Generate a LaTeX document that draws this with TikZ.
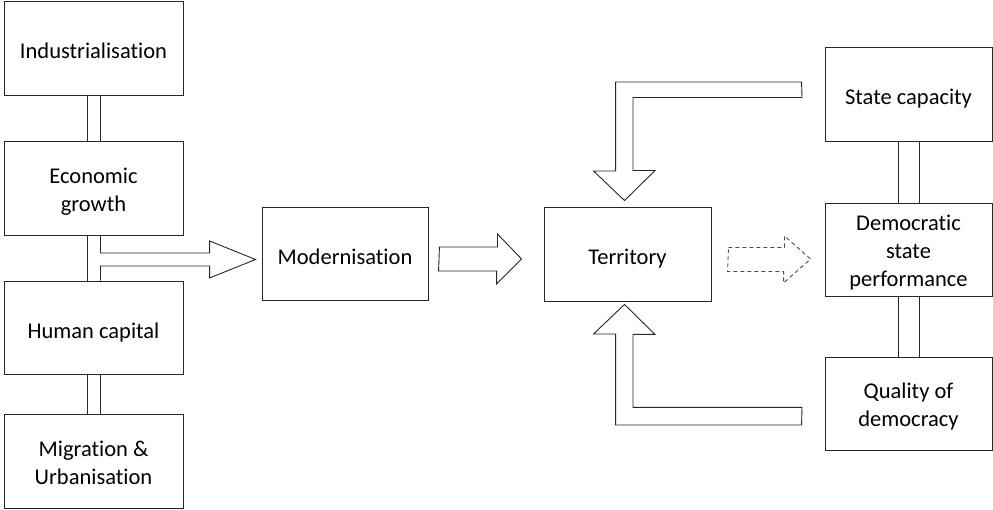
\documentclass[tikz,border=0pt]{standalone}
\usepackage{fontspec}
\setmainfont{Carlito}[Ligatures=NoCommon]
\usepackage{tikz}
\usetikzlibrary{calc}
\newcommand{\upstrut}{\rule{0pt}{25pt}} % Pushes the first line of a box down
\tikzset{x=1pt, y=1pt, % One unit is one point
    box/.style=
    { % Sets the properties for each box
        draw=black!85,
        line width=0.9pt,
        align=center,
        inner sep=2pt,
        font=\fontsize{22.5}{28}\selectfont,
        execute at begin node={\rule{0pt}{28pt}}, % Same strut in every box
        execute at end node={\rule[-6pt]{0pt}{6pt}}
    },
    leftbox/.style={box, minimum width=179, minimum height=94},
    rightbox/.style={box, minimum width=167, minimum height=93},
    bar/.style={draw=black!85, line width=0.9pt}, % Double lines between boxes
    blockarrow/.style={draw=black!85, line width=0.9pt, line join=miter}
}
\begin{document}
\begin{tikzpicture}
\useasboundingbox (0,0) rectangle (993,510);
\node [leftbox] (ind)  at (93.5,462)   {Industrialisation};
\node [leftbox] (econ) at (93.5,322)   {\upstrut Economic\\growth};
\node [leftbox,minimum height=93] (hum) at (93.5,182.5) {Human capital};
\node [leftbox] (mig)  at (93.5,49)    {\upstrut Migration \&\\Urbanisation};
%%%%%%%%%%%%%%%%%%%%%%%%%%%%%%%%%%
\node [box,minimum width=166,minimum height=93] (mod)  at (345,256.5) {Modernisation};
\node [box,minimum width=167,minimum height=94] (terr) at (627.5,256) {Territory};
%%%%%%%%%%%%%%%%%%%%%%%%%%%%%%%%%%
\node [rightbox,minimum height=94] (state) at (908.5,416) {State capacity};
\node [rightbox] (dem)  at (908.5,260.5) {\upstrut Democratic\\state\\performance};
\node [rightbox] (qual) at (908.5,106.5) {\upstrut Quality of\\democracy};

% double bars, left column
\draw [bar]
    ([xshift=-6pt]ind.south) -- ([xshift=-6pt]econ.north)
    ([xshift=7pt]ind.south) -- ([xshift=7pt]econ.north)
    ([xshift=-6pt]econ.south) -- ([xshift=-6pt]hum.north)
    ([xshift=-6pt]hum.south) -- ([xshift=-6pt]mig.north)
    ([xshift=7pt]hum.south) -- ([xshift=7pt]mig.north);

% double bars, right column
\draw [bar]
    ([xshift=-10.5pt]state.south) -- ([xshift=-10.5pt]dem.north)
    ([xshift=10.5pt]state.south) -- ([xshift=10.5pt]dem.north)
    ([xshift=-10.5pt]dem.south) -- ([xshift=-10.5pt]qual.north)
    ([xshift=10.5pt]dem.south) -- ([xshift=10.5pt]qual.north);

% growth/capital -> modernisation
\coordinate (tipmod) at ($(mod.west)+(-6,-6)$);
\draw [blockarrow]
    ([xshift=7pt]econ.south) |- ($(tipmod)+(-46,6.5)$) -- ++(0,12) -- (tipmod)
    -- ++(-46,-18.5) -- ++(0,12) -| ([xshift=7pt]hum.north);

% modernisation -> territory
\draw [blockarrow]
    ($(mod.east)+(11,6.5)$) -- ++(58,0) -- ++(0,13) -- ($(terr.west)+(-22,-5)$)
    -- ++(-25,-25) -- ++(0,13) -- ++(-58,0) -- cycle;

% territory -> democratic state performance
\draw [blockarrow,draw=black!70,dash pattern=on 4pt off 3pt]
    ($(terr.east)+(17,6.5)$) -- ++(56,0) -- ++(0,11.5) -- ($(dem.west)+(-14,-9.5)$)
    -- ++(-27,-24) -- ++(0,11.5) -- ++(-56,0) -- cycle;

% state capacity -> territory
\draw [blockarrow]
    ($(state.west)+(-23,12)$) -- ++(-186,0) -- ++(0,-89) -- ++(-22,0)
    -- ($(terr.north)+(-3,6)$) -- ++(30.5,30) -- ++(-22,0) -- ++(0,73) -- ++(169,0) -- cycle;

% quality of democracy -> territory
\draw [blockarrow]
    ($(qual.west)+(-23,-21.5)$) -- ++(-186,0) -- ++(0,91) -- ++(-22,0)
    -- ($(terr.south)+(-3,-3)$) -- ++(30.5,-30) -- ++(-22,0) -- ++(0,-73) -- ++(169,0) -- cycle;
\end{tikzpicture}
\end{document}
